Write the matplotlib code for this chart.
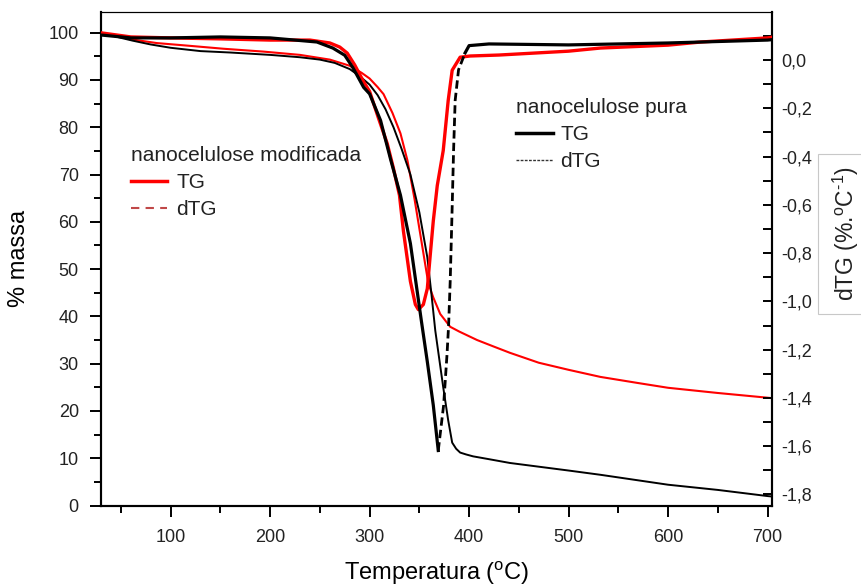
import matplotlib
matplotlib.use('Agg')
import matplotlib.pyplot as plt
from matplotlib.lines import Line2D
from matplotlib.ticker import MultipleLocator, FuncFormatter

# temperatura (oC) e % massa - nanocelulose pura (TG)
temp_tg_pura = [30, 50, 62, 80, 100, 130, 160, 200, 230, 250, 265, 280, 290, 300,
                308, 316, 324, 332, 341, 350, 358, 362, 366, 370, 374, 379, 383,
                387, 391, 397, 404, 420, 441, 500, 532, 600, 650, 700, 705]
massa_tg_pura = [100, 98.9, 98.3, 97.5, 96.8, 96.1, 95.8, 95.3, 94.8, 94.3, 93.6,
                 92.3, 90.8, 89.0, 86.8, 83.8, 80.0, 75.5, 70.0, 62.0, 52.5, 45.0,
                 37.0, 31.0, 25.0, 18.0, 13.3, 12.0, 11.2, 10.8, 10.4, 9.8, 9.0,
                 7.4, 6.5, 4.4, 3.3, 2.0, 1.9]

# nanocelulose modificada (TG)
temp_tg_mod = [30, 60, 86, 120, 153, 193, 230, 260, 280, 292, 300, 308, 314, 323,
               331, 338, 345, 352, 359, 364, 371, 381, 390, 408, 425, 441, 470,
               500, 532, 570, 600, 650, 700, 705]
massa_tg_mod = [100, 98.6, 97.8, 97.2, 96.6, 96.0, 95.3, 94.3, 93.0, 91.5, 90.3,
                88.5, 87.0, 83.0, 78.7, 73.0, 65.0, 56.0, 47.0, 44.0, 40.5, 37.8,
                36.8, 35.0, 33.6, 32.3, 30.2, 28.7, 27.2, 25.9, 24.9, 23.8, 22.8,
                22.7]

# dTG (%.oC-1) - nanocelulose pura
temp_dtg_pura = [30, 60, 100, 150, 200, 247, 263, 275, 283, 294, 300, 311, 321,
                 331, 341, 352, 358, 364, 369, 374.4, 377.8, 379.4, 381, 382.8,
                 384.4, 386, 389.4, 396, 400, 420, 500, 600, 700, 705]
dtg_pura = [0.104, 0.092, 0.092, 0.096, 0.092, 0.075, 0.050, 0.020, -0.030,
            -0.113, -0.140, -0.250, -0.410, -0.560, -0.760, -1.080, -1.250,
            -1.430, -1.618, -1.430, -1.220, -1.100, -0.917, -0.640, -0.375,
            -0.167, -0.040, 0.030, 0.060, 0.067, 0.063, 0.071, 0.083, 0.085]

# dTG (%.oC-1) - nanocelulose modificada
temp_dtg_mod = [30, 60, 100, 150, 200, 240, 260, 270, 277.5, 285, 294, 300,
                308.7, 317.7, 323.8, 330, 334, 341, 346, 349, 354, 358, 361,
                364, 368, 374, 379, 383, 391, 401, 430, 500, 532, 600, 633, 700,
                705]
dtg_mod = [0.113, 0.096, 0.092, 0.088, 0.083, 0.083, 0.071, 0.054, 0.029,
           -0.020, -0.090, -0.130, -0.238, -0.346, -0.446, -0.560, -0.709,
           -0.917, -1.013, -1.034, -1.013, -0.947, -0.805, -0.667, -0.520,
           -0.375, -0.167, -0.042, 0.012, 0.017, 0.021, 0.037, 0.050, 0.062,
           0.075, 0.092, 0.095]

plt.rcParams['font.family'] = ['Liberation Sans', 'DejaVu Sans']
plt.rcParams['mathtext.fontset'] = 'custom'
plt.rcParams['mathtext.rm'] = 'Liberation Sans'
plt.rcParams['text.color'] = '#222222'

fig = plt.figure(figsize=(8.62, 5.87), dpi=100)
ax = fig.add_axes([0.1172, 0.1388, 0.7784, 0.8402])
ax2 = ax.twinx()

# curvas TG (eixo esquerdo)
ax.plot(temp_tg_mod, massa_tg_mod, color='#ff0000', lw=1.5, zorder=3)
ax.plot(temp_tg_pura, massa_tg_pura, color='black', lw=1.4, zorder=4)

# curvas dTG (eixo direito)
ax2.plot(temp_dtg_mod, dtg_mod, color='#ff0000', lw=2.4, zorder=3)
i_min = dtg_pura.index(min(dtg_pura))
i_fim = temp_dtg_pura.index(396)
ax2.plot(temp_dtg_pura[:i_min + 1], dtg_pura[:i_min + 1], color='black', lw=2.3, zorder=4)
ax2.plot(temp_dtg_pura[i_min:i_fim + 1], dtg_pura[i_min:i_fim + 1], color='black',
         lw=2.0, ls=(0, (3, 1.5)), zorder=4)
ax2.plot(temp_dtg_pura[i_fim:], dtg_pura[i_fim:], color='black', lw=2.3, zorder=4)

ax.set_xlim(30, 704.5)
ax.set_ylim(0, 104.3)
ax2.set_ylim(-1.846, 0.198)

ax.xaxis.set_major_locator(MultipleLocator(100))
ax.xaxis.set_minor_locator(MultipleLocator(50))
ax.yaxis.set_major_locator(MultipleLocator(10))
ax.yaxis.set_minor_locator(MultipleLocator(5))
ax2.yaxis.set_major_locator(MultipleLocator(0.2))
ax2.yaxis.set_minor_locator(MultipleLocator(0.1))
ax2.yaxis.set_major_formatter(FuncFormatter(lambda v, p: f'{round(v, 1) + 0:.1f}'.replace('.', ',')))

ax.tick_params(axis='x', which='major', direction='out', length=8, width=1.4,
               pad=9, labelsize=13, labelcolor='#222222')
ax.tick_params(axis='x', which='minor', direction='out', length=5, width=1.4)
ax.tick_params(axis='y', which='major', direction='out', length=8, width=1.4,
               pad=8, labelsize=13, labelcolor='#222222')
ax.tick_params(axis='y', which='minor', direction='out', length=5, width=1.4)
ax2.tick_params(axis='y', which='both', direction='in', length=6.5, width=1.4,
                pad=7, labelsize=13, labelcolor='#222222')
ax.tick_params(top=False, right=False)

for a in (ax, ax2):
    for s in ('left', 'bottom', 'right'):
        a.spines[s].set_linewidth(1.5)
    a.spines['top'].set_linewidth(0.8)

ax.set_xlabel(r'Temperatura ($^{\rm o}$C)', fontsize=17)
ax.xaxis.set_label_coords(0.5, -0.108)
ax.set_ylabel('% massa', fontsize=17)
ax.yaxis.set_label_coords(-0.106, 0.5)

fig.text(846 / 862, 1 - 234 / 587, r'dTG (%.$^{\rm o}$C$^{\text{-}1}$)', rotation=90,
         ha='center', va='center', fontsize=16.5,
         bbox=dict(boxstyle='square,pad=0.55', fc='white', ec='#c8c8c8', lw=0.8))

# legendas
h_mod = [Line2D([], [], color='#ff0000', lw=2.5),
         Line2D([], [], color='#c04848', lw=1.5, ls=(0, (4, 3)))]
leg1 = ax2.legend(h_mod, ['TG', 'dTG'], title='nanocelulose modificada',
                  loc='upper left', bbox_to_anchor=(125.4 / 862, 1 - 140.5 / 587),
                  bbox_transform=fig.transFigure, frameon=False, fontsize=15,
                  title_fontsize=15, alignment='left', handlelength=1.73,
                  handletextpad=0.43, borderpad=0.27, borderaxespad=0,
                  labelspacing=0.38)
ax2.add_artist(leg1)

h_pura = [Line2D([], [], color='black', lw=2.5),
          Line2D([], [], color='#333333', lw=1.0, ls=(0, (2, 1)))]
ax2.legend(h_pura, ['TG', 'dTG'], title='nanocelulose pura',
           loc='upper left', bbox_to_anchor=(510.4 / 862, 1 - 92.5 / 587),
           bbox_transform=fig.transFigure, frameon=False, fontsize=15,
           title_fontsize=15, alignment='left', handlelength=1.78,
           handletextpad=0.35, borderpad=0.27, borderaxespad=0,
           labelspacing=0.38)

fig.savefig('out.png', dpi=100)
